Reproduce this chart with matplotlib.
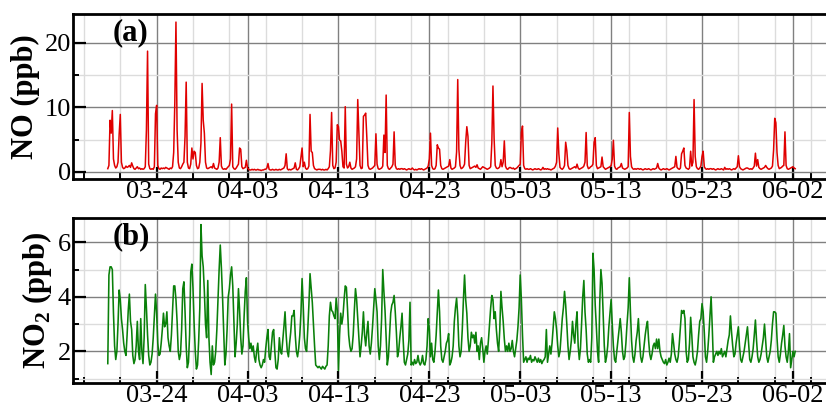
import numpy as np
import pandas as pd
import matplotlib
matplotlib.use('Agg')
import matplotlib.pyplot as plt
import matplotlib.dates as mdates
from matplotlib.ticker import MultipleLocator, FixedLocator

# ---------------- data (3-hourly, one row per day starting 03-18 00:00) ----------------
start_date = '2021-03-18'
N = None
no_rows = [
    [N, N, N, N, N, 0.5, 1.0, 8.0],
    [6.0, 9.5, 2.0, 1.0, 0.6, 0.8, 1.5, 5.8],
    [8.9, 1.5, 0.7, 0.5, 0.6, 0.9, 0.7, 0.8],
    [1.0, 0.7, 1.4, 0.9, 0.5, 0.4, 0.6, 0.8],
    [0.5, 0.6, 0.4, 0.5, 0.4, 0.5, 0.8, 6.5],
    [18.7, 1.2, 0.5, 0.4, 0.5, 0.4, 0.8, 9.0],
    [10.3, 1.0, 0.5, 0.4, 0.6, 0.5, 0.6, 0.5],
    [0.7, 0.6, 0.5, 0.4, 0.6, 0.5, 0.8, 3.0],
    [10.8, 23.2, 6.5, 1.5, 0.6, 0.5, 0.8, 1.2],
    [1.5, 5.5, 13.9, 1.5, 0.6, 0.5, 1.2, 3.7],
    [2.0, 3.2, 3.0, 1.0, 0.5, 0.6, 1.5, 4.5],
    [13.7, 8.0, 6.0, 1.5, 0.6, 0.5, 0.6, 0.7],
    [0.8, 0.6, 1.3, 0.6, 0.5, 0.4, 0.6, 1.5],
    [5.3, 0.9, 0.5, 0.4, 0.5, 0.4, 0.6, 0.8],
    [1.0, 2.0, 10.5, 0.8, 0.5, 0.4, 0.6, 0.9],
    [1.2, 3.7, 3.5, 0.8, 0.5, 0.6, 0.7, 1.8],
    [0.6, 0.4, 0.3, 0.3, 0.4, 0.3, 0.4, 0.3],
    [0.3, 0.4, 0.3, 0.3, 0.2, 0.3, 0.3, 0.4],
    [0.4, 0.6, 1.3, 0.4, 0.3, 0.3, 0.4, 0.3],
    [0.3, 0.4, 0.3, 0.3, 0.4, 0.3, 0.4, 0.5],
    [0.6, 1.0, 2.8, 0.5, 0.3, 0.4, 0.3, 0.4],
    [0.5, 0.6, 1.4, 0.4, 0.3, 0.5, 0.8, 2.3],
    [3.7, 0.8, 1.5, 0.6, 0.4, 0.5, 0.9, 8.9],
    [3.2, 3.0, 1.0, 0.5, 0.4, 0.3, 0.4, 0.4],
    [0.4, 0.3, 0.4, 0.3, 0.3, 0.4, 0.3, 0.5],
    [0.8, 3.3, 9.2, 1.0, 0.5, 0.6, 1.5, 7.3],
    [7.0, 4.9, 4.8, 3.2, 0.8, 0.6, 10.1, 1.2],
    [0.6, 0.8, 1.5, 0.6, 0.4, 0.5, 0.6, 0.8],
    [2.0, 11.2, 6.1, 1.0, 0.5, 0.6, 8.6, 8.8],
    [9.1, 5.3, 1.0, 0.5, 0.4, 0.5, 0.6, 0.8],
    [1.0, 5.9, 1.2, 0.5, 0.4, 0.5, 0.6, 0.9],
    [5.7, 3.0, 11.9, 1.0, 0.5, 0.4, 0.6, 0.8],
    [1.2, 6.2, 1.0, 0.5, 0.4, 0.5, 0.4, 0.5],
    [0.5, 0.4, 0.5, 0.4, 0.3, 0.4, 0.5, 0.4],
    [0.4, 0.6, 0.4, 0.3, 0.4, 0.3, 0.4, 0.5],
    [0.4, 0.5, 0.4, 0.3, 0.4, 0.5, 0.6, 0.9],
    [2.0, 6.0, 1.0, 0.5, 0.4, 0.5, 1.0, 4.2],
    [3.7, 3.5, 1.0, 0.5, 0.4, 0.5, 0.6, 0.7],
    [0.8, 0.9, 1.9, 0.6, 0.4, 0.5, 0.6, 0.8],
    [3.1, 14.3, 3.5, 1.0, 0.5, 0.6, 0.8, 1.2],
    [4.6, 7.0, 5.5, 1.0, 0.5, 0.6, 0.7, 0.8],
    [0.9, 0.7, 1.1, 0.6, 0.5, 0.4, 0.6, 0.8],
    [0.7, 0.6, 0.5, 0.4, 0.5, 0.6, 0.8, 4.5],
    [13.3, 5.2, 1.0, 0.6, 0.5, 0.6, 0.8, 1.9],
    [0.8, 1.5, 4.8, 0.9, 0.5, 0.4, 0.6, 0.7],
    [0.6, 0.5, 0.6, 0.4, 0.5, 0.6, 0.8, 1.0],
    [1.2, 6.1, 7.1, 1.0, 0.5, 0.4, 0.5, 0.4],
    [0.4, 0.5, 0.4, 0.3, 0.4, 0.5, 0.4, 0.4],
    [0.5, 0.4, 0.3, 0.4, 0.7, 0.4, 0.5, 0.4],
    [0.5, 0.4, 0.4, 0.3, 0.4, 0.5, 0.6, 0.9],
    [1.5, 6.8, 2.8, 0.7, 0.5, 0.4, 0.6, 1.0],
    [4.6, 3.3, 1.0, 0.5, 0.4, 0.5, 0.6, 0.7],
    [0.8, 0.6, 1.2, 0.6, 0.4, 0.5, 0.6, 0.7],
    [0.9, 1.5, 6.1, 1.0, 0.5, 0.6, 0.8, 0.9],
    [1.2, 4.6, 5.3, 1.0, 0.5, 0.6, 0.7, 0.8],
    [2.3, 0.8, 0.6, 0.4, 0.5, 0.6, 0.7, 0.8],
    [1.0, 2.0, 4.9, 0.9, 0.5, 0.4, 0.6, 0.7],
    [0.8, 1.3, 0.6, 0.5, 0.4, 0.5, 0.6, 0.8],
    [9.2, 2.4, 0.8, 0.5, 0.4, 0.5, 0.4, 0.5],
    [0.5, 0.4, 0.5, 0.4, 0.3, 0.4, 0.5, 0.4],
    [0.4, 0.5, 0.4, 0.3, 0.4, 0.5, 0.4, 0.5],
    [0.6, 1.3, 0.6, 0.4, 0.3, 0.4, 0.5, 0.4],
    [0.4, 0.5, 0.4, 0.3, 0.4, 0.5, 0.6, 0.7],
    [0.8, 2.4, 0.7, 0.5, 0.4, 0.6, 2.8, 3.2],
    [3.7, 1.0, 0.6, 0.5, 0.4, 0.6, 3.2, 0.9],
    [1.5, 11.2, 2.4, 0.8, 0.5, 0.4, 0.6, 0.9],
    [2.4, 3.2, 0.8, 0.5, 0.4, 0.5, 0.4, 0.5],
    [0.5, 0.4, 0.5, 0.4, 0.3, 0.4, 0.5, 0.4],
    [0.4, 0.5, 0.4, 0.3, 0.7, 0.4, 0.5, 0.4],
    [0.5, 0.4, 0.3, 0.4, 0.5, 0.4, 0.6, 0.8],
    [2.5, 0.8, 0.5, 0.4, 0.3, 0.4, 0.5, 0.6],
    [0.6, 0.5, 0.4, 0.5, 0.4, 0.6, 0.9, 2.9],
    [0.9, 1.9, 0.7, 0.5, 0.4, 0.5, 0.6, 0.7],
    [1.0, 0.7, 0.5, 0.4, 0.5, 0.6, 0.9, 3.4],
    [8.3, 7.6, 3.0, 1.0, 0.5, 0.6, 0.7, 0.9],
    [1.0, 6.2, 1.0, 0.5, 0.4, 0.5, 0.6, 0.7],
    [0.8, 0.6, 0.5],
]

no2_rows = [
    [N, N, N, N, N, 1.55, 4.8, 5.1],
    [5.1, 5.0, 3.4, 2.2, 1.7, 2.0, 3.0, 4.25],
    [3.9, 3.2, 2.8, 2.3, 2.0, 1.85, 2.6, 3.5],
    [4.1, 3.1, 2.8, 1.85, 1.55, 1.7, 2.2, 3.1],
    [2.0, 1.7, 3.2, 2.0, 1.55, 2.5, 4.45, 3.6],
    [2.6, 1.85, 1.5, 1.6, 1.9, 2.5, 3.3, 4.1],
    [3.4, 2.3, 1.85, 1.9, 2.3, 2.8, 3.4, 2.9],
    [3.0, 3.45, 2.5, 2.2, 2.0, 2.6, 3.5, 4.4],
    [4.4, 3.9, 3.1, 2.0, 1.7, 1.9, 2.8, 4.3],
    [4.55, 3.45, 2.2, 1.4, 1.6, 2.6, 4.9, 5.2],
    [4.3, 3.0, 2.0, 1.35, 1.5, 2.4, 3.6, 6.65],
    [5.5, 5.1, 4.2, 3.0, 2.5, 4.6, 2.5, 1.6],
    [1.15, 2.2, 1.5, 1.6, 2.0, 2.8, 3.9, 5.0],
    [5.9, 5.05, 4.0, 2.7, 1.5, 1.9, 2.8, 4.0],
    [4.3, 4.8, 5.1, 4.4, 3.1, 1.8, 2.3, 3.0],
    [4.3, 3.5, 2.5, 1.9, 2.2, 3.3, 4.2, 4.7],
    [3.1, 2.5, 2.1, 2.3, 2.0, 2.2, 1.8, 1.6],
    [2.0, 2.3, 1.7, 1.5, 1.4, 1.5, 1.7, 1.6],
    [2.1, 2.5, 2.8, 1.8, 1.7, 2.2, 2.7, 2.8],
    [2.0, 1.4, 1.35, 1.7, 2.5, 2.0, 1.9, 2.4],
    [2.9, 3.45, 2.6, 2.0, 1.8, 2.3, 2.7, 3.3],
    [3.3, 3.5, 2.6, 2.0, 1.8, 2.1, 2.6, 3.4],
    [4.67, 3.7, 2.5, 2.1, 2.0, 2.8, 3.7, 4.85],
    [4.3, 3.8, 3.0, 2.2, 1.5, 1.45, 1.4, 1.45],
    [1.4, 1.35, 1.45, 1.4, 1.35, 1.45, 1.5, 2.2],
    [3.3, 3.8, 3.5, 3.45, 3.3, 3.2, 3.95, 3.5],
    [1.3, 2.6, 3.4, 3.0, 3.3, 3.9, 4.4, 4.35],
    [3.55, 2.6, 2.2, 2.0, 2.1, 2.6, 3.5, 4.3],
    [3.9, 3.2, 2.45, 1.8, 2.2, 2.7, 3.45, 2.6],
    [2.2, 2.7, 3.1, 2.2, 1.9, 2.3, 2.9, 3.6],
    [4.3, 3.9, 3.45, 2.2, 1.7, 2.2, 3.2, 5.0],
    [4.2, 3.5, 2.5, 1.5, 1.8, 2.6, 3.4, 3.7],
    [3.8, 4.05, 3.45, 2.7, 1.8, 2.0, 2.5, 2.9],
    [3.4, 2.4, 1.6, 1.5, 1.7, 1.9, 2.4, 3.8],
    [1.5, 1.6, 1.5, 1.7, 1.55, 1.6, 1.85, 1.6],
    [1.5, 1.6, 1.85, 1.55, 1.5, 1.7, 2.2, 3.2],
    [2.8, 1.8, 2.3, 1.7, 1.6, 2.0, 2.6, 3.45],
    [4.25, 3.45, 2.2, 1.7, 1.6, 1.8, 2.0, 2.3],
    [2.4, 2.65, 1.5, 1.6, 1.8, 2.2, 3.1, 3.6],
    [3.95, 3.3, 2.2, 1.8, 2.0, 2.8, 3.9, 4.8],
    [3.9, 3.4, 2.5, 2.0, 2.2, 2.7, 2.5, 2.6],
    [2.3, 2.7, 2.0, 2.2, 1.7, 2.3, 2.5, 2.1],
    [1.6, 2.0, 2.2, 1.9, 2.4, 3.0, 3.6, 4.05],
    [3.9, 3.2, 3.45, 2.8, 2.3, 2.0, 2.8, 4.2],
    [3.6, 3.1, 2.45, 2.0, 2.2, 2.0, 2.3, 2.0],
    [2.1, 2.4, 2.0, 1.8, 2.1, 2.4, 2.9, 3.6],
    [4.8, 3.9, 2.6, 1.6, 1.7, 1.8, 1.6, 1.75],
    [1.7, 1.85, 1.6, 1.7, 1.65, 1.8, 1.7, 1.6],
    [1.75, 1.6, 1.7, 1.55, 1.65, 1.7, 1.8, 2.8],
    [1.6, 1.9, 2.2, 1.9, 2.3, 2.9, 3.45, 3.2],
    [2.8, 2.2, 1.8, 2.0, 2.6, 3.2, 3.6, 4.2],
    [3.7, 3.0, 2.2, 1.7, 2.0, 2.4, 3.1, 2.6],
    [2.3, 3.0, 3.45, 2.2, 1.7, 2.1, 3.0, 4.0],
    [4.6, 3.45, 2.8, 1.9, 1.6, 1.7, 1.6, 2.5],
    [5.6, 5.0, 3.7, 2.9, 2.0, 1.6, 3.8, 5.0],
    [4.5, 3.4, 2.2, 1.6, 1.8, 2.2, 2.9, 3.4],
    [3.9, 3.0, 2.2, 1.7, 1.6, 2.0, 2.4, 2.8],
    [3.2, 2.7, 2.0, 1.7, 1.8, 2.3, 3.0, 3.6],
    [4.7, 3.45, 2.4, 1.8, 1.6, 1.9, 2.4, 2.7],
    [3.2, 2.4, 1.8, 1.6, 1.8, 2.2, 2.6, 2.9],
    [3.1, 2.4, 1.9, 1.7, 1.9, 2.2, 2.3, 2.1],
    [2.45, 2.1, 2.45, 2.0, 1.8, 1.7, 1.6, 1.55],
    [1.7, 1.5, 1.6, 1.75, 1.6, 1.9, 2.65, 2.3],
    [1.9, 1.7, 1.6, 1.8, 2.3, 2.9, 3.5, 3.4],
    [3.5, 3.2, 2.0, 1.6, 1.7, 2.3, 3.25, 2.6],
    [1.8, 1.6, 1.5, 1.7, 2.0, 2.6, 3.1, 3.2],
    [3.75, 3.45, 2.7, 1.8, 1.6, 2.0, 2.6, 3.3],
    [4.0, 2.9, 1.6, 1.8, 1.9, 2.0, 1.85, 2.0],
    [1.9, 2.1, 1.8, 1.9, 2.0, 1.8, 2.1, 2.4],
    [2.6, 3.3, 2.7, 2.2, 1.8, 1.9, 2.3, 2.6],
    [2.9, 2.2, 1.7, 1.6, 1.8, 2.0, 2.3, 2.6],
    [2.9, 2.3, 1.7, 1.6, 1.8, 2.1, 2.6, 3.15],
    [2.4, 1.8, 1.6, 1.7, 1.9, 2.2, 2.5, 3.0],
    [2.4, 1.8, 1.6, 1.8, 2.0, 2.4, 3.0, 3.45],
    [3.45, 3.4, 2.5, 1.8, 1.6, 1.9, 2.3, 2.6],
    [2.95, 2.2, 1.8, 1.6, 2.0, 2.65, 1.4, 1.7],
    [2.0, 1.8, 2.0],
]

major_tick_dates = ['2021-03-24', '2021-04-03', '2021-04-13', '2021-04-23',
                    '2021-05-03', '2021-05-13', '2021-05-23', '2021-06-02']
minor_tick_start, minor_tick_end = '2021-03-16', '2021-06-06'
no_yticks = [0, 10, 20]
no2_yticks = [2, 4, 6]

# ---------------- build series ----------------
no_flat = np.array([np.nan if v is None else v for row in no_rows for v in row], dtype=float)
no2_flat = np.array([np.nan if v is None else v for row in no2_rows for v in row], dtype=float)
times = pd.date_range(start_date, periods=len(no_flat), freq='3h')

plt.rcParams['font.family'] = ['Liberation Serif', 'DejaVu Serif']
plt.rcParams['mathtext.fontset'] = 'custom'
plt.rcParams['mathtext.rm'] = 'Liberation Serif'
plt.rcParams['mathtext.bf'] = 'Liberation Serif:bold'

fig = plt.figure(figsize=(8.26, 4.07), dpi=100)
ax1 = fig.add_axes([0.0884, 0.5602, 0.9116, 0.4054])
ax2 = fig.add_axes([0.0884, 0.0597, 0.9116, 0.4039])

t0 = mdates.date2num(pd.Timestamp(start_date))
xlim = (t0 - 3.2, t0 + 79.64)
major_locs = [mdates.date2num(pd.Timestamp(d)) for d in major_tick_dates]
minor_locs = mdates.date2num(pd.date_range(minor_tick_start, minor_tick_end, freq='4D'))

ax1.plot(times, no_flat, color='#e00000', lw=1.1)
ax2.plot(times, no2_flat, color='#0a800a', lw=1.15)

for ax, ylim, yt, ymin, ylab, tag in [
        (ax1, (-1.1, 24.45), no_yticks, 5, 'NO (ppb)', '(a)'),
        (ax2, (0.85, 6.88), no2_yticks, 1, r'NO$_\mathbf{2}$ (ppb)', '(b)')]:
    ax.set_xlim(*xlim)
    ax.set_ylim(*ylim)
    ax.xaxis.set_major_locator(FixedLocator(major_locs))
    ax.xaxis.set_minor_locator(FixedLocator(minor_locs))
    ax.xaxis.set_major_formatter(mdates.DateFormatter('%m-%d'))
    ax.yaxis.set_major_locator(FixedLocator(yt))
    ax.yaxis.set_minor_locator(MultipleLocator(ymin))
    ax.set_axisbelow(True)
    ax.grid(which='major', color='#808080', lw=1.0)
    ax.grid(which='minor', color='#dcdcdc', lw=1.0)
    ax.tick_params(which='both', direction='in', labelsize=19, top=False, right=False)
    ax.tick_params(which='major', length=9, width=1.6)
    ax.tick_params(which='minor', length=4, width=1.4)
    ax.tick_params(axis='x', which='major', pad=1.5)
    ax.tick_params(axis='y', which='major', pad=1.5)
    for s in ['left', 'top', 'bottom']:
        ax.spines[s].set_linewidth(2.0)
    ax.spines['right'].set_visible(False)
    ax.set_ylabel(ylab, fontsize=22, fontweight='bold', labelpad=3)
    ax.text(0.052, 0.975, tag, transform=ax.transAxes, fontsize=22,
            fontweight='bold', ha='left', va='top')

fig.savefig('out.png', dpi=100)
